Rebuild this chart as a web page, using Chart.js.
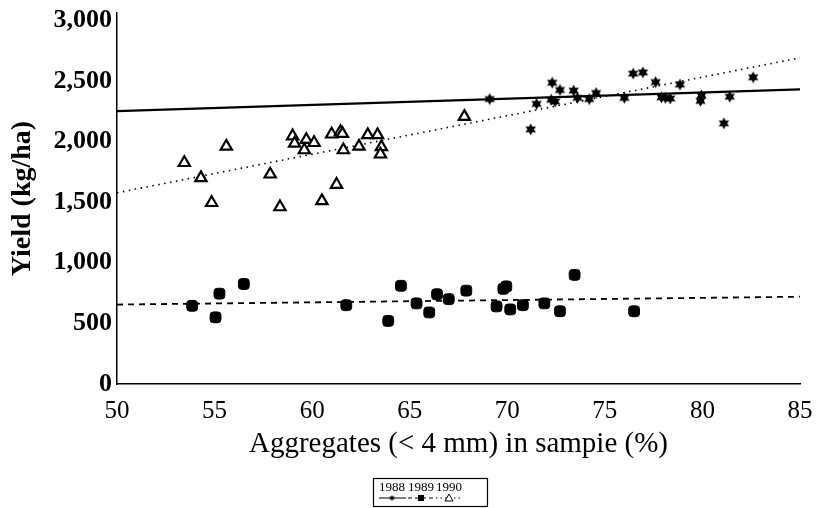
<!DOCTYPE html>
<html>
<head>
<meta charset="utf-8">
<script src="https://cdn.jsdelivr.net/npm/chart.js@4.4.1/dist/chart.umd.min.js"></script>
<style>
  html, body { margin: 0; padding: 0; background: #fff; }
  #wrap { width: 820px; height: 508px; }
</style>
</head>
<body>
<div id="wrap"><canvas id="c" width="820" height="508"></canvas></div>
<script>
// Yield vs. aggregate share, three seasons
const years = ['1988', '1989', '1990'];

const x1988 = [69.1, 71.2, 71.5, 72.3, 72.25, 72.45, 72.7, 73.4, 73.6, 74.2, 74.55, 76.0, 76.45, 76.95, 77.6, 77.9, 78.1, 78.35, 78.85, 79.9, 79.95, 81.4, 81.1, 82.6];
const y1988 = [2350, 2100, 2310, 2485, 2345, 2330, 2425, 2420, 2360, 2350, 2400, 2360, 2560, 2570, 2490, 2365, 2360, 2355, 2470, 2335, 2380, 2370, 2150, 2530];

const x1989 = [53.85, 55.05, 55.25, 56.5, 61.75, 63.9, 64.55, 65.35, 66.0, 66.4, 67.0, 67.9, 69.45, 69.8, 69.95, 70.15, 70.8, 71.9, 72.7, 73.45, 76.5];
const y1989 = [645, 550, 745, 825, 650, 520, 810, 665, 590, 740, 700, 770, 640, 785, 805, 615, 650, 665, 600, 900, 600];

const x1990 = [53.45, 54.3, 54.85, 55.6, 57.85, 58.35, 59.0, 59.1, 59.7, 59.6, 60.1, 60.5, 61.0, 61.25, 61.45, 61.55, 61.6, 62.4, 62.85, 63.35, 63.55, 63.5, 67.8];
const y1990 = [1825, 1700, 1495, 1960, 1730, 1460, 2045, 1985, 2015, 1930, 1990, 1510, 2060, 1645, 2080, 2065, 1930, 1960, 2055, 2055, 1955, 1895, 2205];

// fitted lines (end points at the axis limits)
const fitX = [50, 85];
const fit1988 = [2250, 2430];
const fit1989 = [655, 720];
const fit1990 = [1577, 2690];

const xTicks = [50, 55, 60, 65, 70, 75, 80, 85];
const yTicks = [0, 500, 1000, 1500, 2000, 2500, 3000];

const pts = (xs, ys) => xs.map((x, i) => ({ x: x, y: ys[i] }));

// filled six-point star marker
function starMarker(size) {
  const c = document.createElement('canvas');
  c.width = size; c.height = size;
  const g = c.getContext('2d');
  const cx = size / 2, cy = size / 2, ro = size / 2 - 0.5, ri = ro * 0.55;
  g.beginPath();
  for (let i = 0; i < 12; i++) {
    const r = i % 2 === 0 ? ro : ri;
    const a = -Math.PI / 2 + i * Math.PI / 6;
    const px = cx + r * Math.cos(a), py = cy + r * Math.sin(a);
    if (i === 0) g.moveTo(px, py); else g.lineTo(px, py);
  }
  g.closePath();
  g.fillStyle = '#000';
  g.fill();
  return c;
}
const star = starMarker(13);

const SERIF = '"Liberation Serif", "DejaVu Serif", serif';

// boxed legend below the axis title
const boxLegend = {
  id: 'boxLegend',
  afterDraw(chart) {
    const ctx = chart.ctx;
    const left = 373, top = 478, w = 114, h = 28;
    ctx.save();
    ctx.strokeStyle = '#000';
    ctx.lineWidth = 1.2;
    ctx.strokeRect(left + 0.5, top + 0.5, w, h);
    ctx.font = '13px ' + SERIF;
    ctx.fillStyle = '#000';
    ctx.textBaseline = 'middle';
    const slots = [379, 408, 436];
    const dashes = [[], [4, 3], [1.5, 3]];
    years.forEach((yr, i) => {
      const x0 = slots[i];
      ctx.fillText(yr, x0, top + 10);
      ctx.setLineDash(dashes[i]);
      ctx.lineWidth = 1;
      ctx.beginPath();
      ctx.moveTo(x0, top + 20);
      ctx.lineTo(x0 + 27, top + 20);
      ctx.stroke();
      ctx.setLineDash([]);
      const mx = x0 + 13, my = top + 20;
      if (i === 0) {
        ctx.drawImage(starMarker(7), mx - 3.5, my - 3.5);
      } else if (i === 1) {
        ctx.fillRect(mx - 3, my - 3, 6, 6);
      } else {
        ctx.beginPath();
        ctx.moveTo(mx, my - 4);
        ctx.lineTo(mx + 4, my + 3);
        ctx.lineTo(mx - 4, my + 3);
        ctx.closePath();
        ctx.fillStyle = '#fff';
        ctx.fill();
        ctx.stroke();
        ctx.fillStyle = '#000';
      }
    });
    ctx.restore();
  }
};

new Chart(document.getElementById('c'), {
  type: 'scatter',
  data: {
    datasets: [
      {
        label: years[2] + ' fit', type: 'line', data: pts(fitX, fit1990),
        borderColor: '#000', borderWidth: 1.6, borderDash: [1.5, 4.5],
        pointRadius: 0, fill: false, order: 5
      },
      {
        label: years[0] + ' fit', type: 'line', data: pts(fitX, fit1988),
        borderColor: '#000', borderWidth: 2.2,
        pointRadius: 0, fill: false, order: 5
      },
      {
        label: years[1] + ' fit', type: 'line', data: pts(fitX, fit1989),
        borderColor: '#000', borderWidth: 1.8, borderDash: [6, 5],
        pointRadius: 0, fill: false, order: 5
      },
      {
        label: years[0], data: pts(x1988, y1988),
        pointStyle: star, pointRadius: 6, order: 1
      },
      {
        label: years[1], data: pts(x1989, y1989),
        pointStyle: 'rectRounded', pointRadius: 6.3,
        backgroundColor: '#000', borderColor: '#000', borderWidth: 1, order: 1
      },
      {
        label: years[2], data: pts(x1990, y1990),
        pointStyle: 'triangle', pointRadius: 6.5,
        backgroundColor: '#fff', borderColor: '#000', borderWidth: 2.2, order: 1
      }
    ]
  },
  options: {
    responsive: false,
    animation: false,
    events: [],
    layout: { padding: { top: 13, right: 20, left: 0, bottom: 44 } },
    plugins: {
      legend: { display: false },
      tooltip: { enabled: false }
    },
    scales: {
      x: {
        type: 'linear', min: 50, max: 85,
        afterBuildTicks: s => { s.ticks = xTicks.map(v => ({ value: v })); },
        afterFit: s => { s.height = 80; s.paddingRight = 0; },
        grid: { display: false },
        border: { display: true, color: '#000', width: 1.5 },
        ticks: {
          color: '#000', padding: 4,
          font: { family: SERIF, size: 25 }
        },
        title: {
          display: true, text: 'Aggregates (< 4 mm) in sampie (%)',
          color: '#000', font: { family: SERIF, size: 29 },
          padding: { top: 0, bottom: 2 }
        }
      },
      y: {
        type: 'linear', min: 0, max: 3060,
        afterBuildTicks: s => { s.ticks = yTicks.map(v => ({ value: v })); },
        afterFit: s => { s.width = 117; s.paddingTop = 0; s.paddingBottom = 0; },
        grid: { display: false },
        border: { display: true, color: '#000', width: 1.5 },
        ticks: {
          color: '#000', padding: -3,
          font: { family: SERIF, size: 26, weight: 'bold' },
          callback: v => v.toLocaleString('en-US')
        },
        title: {
          display: true, text: 'Yield (kg/ha)',
          color: '#000', font: { family: SERIF, size: 28, weight: 'bold' },
          padding: { top: 6, bottom: 0 }
        }
      }
    }
  },
  plugins: [boxLegend]
});
</script>
</body>
</html>
